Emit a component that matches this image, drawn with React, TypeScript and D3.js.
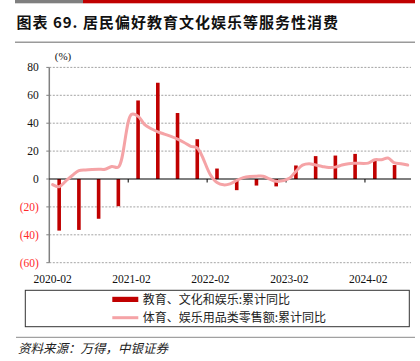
import React from "react";
import * as d3 from "d3";

const months: string[] = [
  "2020-02","2020-03","2020-04","2020-05","2020-06","2020-07","2020-08","2020-09","2020-10","2020-11","2020-12",
  "2021-01","2021-02","2021-03","2021-04","2021-05","2021-06","2021-07","2021-08","2021-09","2021-10","2021-11","2021-12",
  "2022-01","2022-02","2022-03","2022-04","2022-05","2022-06","2022-07","2022-08","2022-09","2022-10","2022-11","2022-12",
  "2023-01","2023-02","2023-03","2023-04","2023-05","2023-06","2023-07","2023-08","2023-09","2023-10","2023-11","2023-12",
  "2024-01","2024-02","2024-03","2024-04","2024-05","2024-06","2024-07","2024-08",
];

// 体育、娱乐用品类零售额:累计同比 (monthly, January not published)
const retailValues: (number | null)[] = [
  -4, -5.5, -1.5, 2.5, 6, 6.5, 6.8, 7, 7, 9, 8.5,
  null, 46.3, 45, 39, 36, 33.8, 32.2, 30.5, 28.6, 26.2, 23.4, 22.2,
  null, 3, -2.5, -4.2, -3.5, -1, 1, 1.8, 2, 2, 0, -1.7,
  null, 0.5, 5.5, 10, 11, 10, 9, 8.2, 8.5, 10, 11, 11.3,
  null, 11.4, 13.8, 13.8, 15, 11.5, 11, 10,
];

// 教育、文化和娱乐:累计同比 (quarterly)
const barMonths: string[] = [
  "2020-03","2020-06","2020-09","2020-12",
  "2021-03","2021-06","2021-09","2021-12",
  "2022-03","2022-06","2022-09","2022-12",
  "2023-03","2023-06","2023-09","2023-12",
  "2024-03","2024-06",
];
const barValues: number[] = [
  -37, -36.5, -28.5, -19.5,
  56.3, 69, 47.3, 28.5,
  7.5, -8, -4.7, -5.3,
  9.7, 16.4, 16.8, 18,
  13.1, 10,
];

const yTicks: number[] = [80, 60, 40, 20, 0, -20, -40, -60];
const xLabels: string[] = ["2020-02", "2021-02", "2022-02", "2023-02", "2024-02"];
const legendLabels: string[] = ["教育、文化和娱乐:累计同比", "体育、娱乐用品类零售额:累计同比"];
const title = "图表 69. 居民偏好教育文化娱乐等服务性消费";
const source = "资料来源：万得，中银证券";

const BAR = "#c00000";
const LINE = "#f5a3a6";

export default function App() {
  const W = 420, H = 361;
  const left = 49.3, right = 411;
  const y = d3.scaleLinear().domain([-60, 80]).range([262.7, 67.4]);
  const x = d3.scaleBand<string>().domain(months).range([left, right]).padding(0);
  const bw = x.bandwidth();
  const cx = (m: string) => (x(m) as number) + bw / 2;

  const pts = months
    .map((m, i) => ({ m, v: retailValues[i] }))
    .filter((d) => d.v !== null) as { m: string; v: number }[];
  const line = d3
    .line<{ m: string; v: number }>()
    .x((d) => cx(d.m))
    .y((d) => y(d.v))
    .curve(d3.curveCatmullRom.alpha(0.5));

  const serif = "'Liberation Serif', 'Times New Roman', serif";
  const cjk = "'Noto Sans CJK SC', sans-serif";
  const yearTicks = months.filter((m, i) => i > 0 && m.endsWith("-02")).map((m) => x(m) as number);
  const barW = 3.6;

  return (
    <svg width={W} height={H} style={{ position: "absolute", left: 0, top: 0, background: "#fff" }}>
      <rect x={0} y={0} width={W} height={H} fill="#fff" />
      {/* header */}
      <rect x={15} y={0} width={68} height={3.3} fill="#7f7f7f" />
      <rect x={83} y={0} width={332} height={3.3} fill={BAR} />
      <text x={16.5} y={28} fontFamily={cjk} fontWeight={700} fontSize={15} letterSpacing={1} fill="#111">
        {title}
      </text>
      <line x1={15} x2={415} y1={42.3} y2={42.3} stroke="#9a9a9a" strokeWidth={1.5} />

      {/* grid */}
      {yTicks.filter((t) => t !== 0).map((t) => (
        <line key={t} x1={left} x2={right} y1={y(t)} y2={y(t)} stroke="#8c8c8c" strokeWidth={0.8} strokeDasharray="2,1.5" />
      ))}
      {/* y axis */}
      <line x1={left} x2={left} y1={y(80)} y2={y(-60)} stroke="#808080" strokeWidth={1.5} />
      {yTicks.map((t) => (
        <g key={"yt" + t}>
          <line x1={left - 3} x2={left} y1={y(t)} y2={y(t)} stroke="#808080" strokeWidth={1} />
          <text x={38.8} y={y(t)} dy="0.35em" textAnchor="end" fontFamily={serif} fontSize={11.5} fill={t < 0 ? "#ff2a2a" : "#111"}>
            {t < 0 ? `(${-t})` : `${t}`}
          </text>
        </g>
      ))}
      <text x={63} y={59.5} textAnchor="middle" fontFamily={serif} fontSize={11} fill="#111">(%)</text>

      {/* bars */}
      {barMonths.map((m, i) => {
        const v = barValues[i];
        return (
          <rect key={m} x={cx(m) - barW / 2} y={Math.min(y(v), y(0))} width={barW} height={Math.abs(y(v) - y(0))} fill={BAR} />
        );
      })}

      {/* zero axis */}
      <line x1={left} x2={right} y1={y(0)} y2={y(0)} stroke="#000" strokeWidth={1.2} />
      {yearTicks.map((tx, i) => (
        <line key={"xt" + i} x1={tx} x2={tx} y1={y(0)} y2={y(0) + 3.5} stroke="#000" strokeWidth={1} />
      ))}

      {/* line */}
      <path d={line(pts) || ""} fill="none" stroke={LINE} strokeWidth={3} strokeLinejoin="round" strokeLinecap="round" />

      {/* x labels */}
      {xLabels.map((m) => (
        <text key={m} x={cx(m)} y={282.5} textAnchor="middle" fontFamily={serif} fontSize={11.5} fill="#111">
          {m}
        </text>
      ))}

      {/* legend */}
      <rect x={25.3} y={290.3} width={384} height={36.4} fill="none" stroke="#333" strokeWidth={1} />
      <rect x={112.3} y={296.8} width={26} height={5.2} fill={BAR} />
      <text x={142.7} y={304} fontFamily={cjk} fontSize={12} fill="#222">{legendLabels[0]}</text>
      <line x1={112.3} x2={138.3} y1={317.7} y2={317.7} stroke={LINE} strokeWidth={3} />
      <text x={142.7} y={322.3} fontFamily={cjk} fontSize={12} fill="#222">{legendLabels[1]}</text>

      {/* footer */}
      <line x1={16} x2={415} y1={337.3} y2={337.3} stroke="#8a8a8a" strokeWidth={1} />
      <text x={18} y={352.5} fontFamily={cjk} fontSize={12.5} fontStyle="italic" fill="#222">{source}</text>
    </svg>
  );
}
